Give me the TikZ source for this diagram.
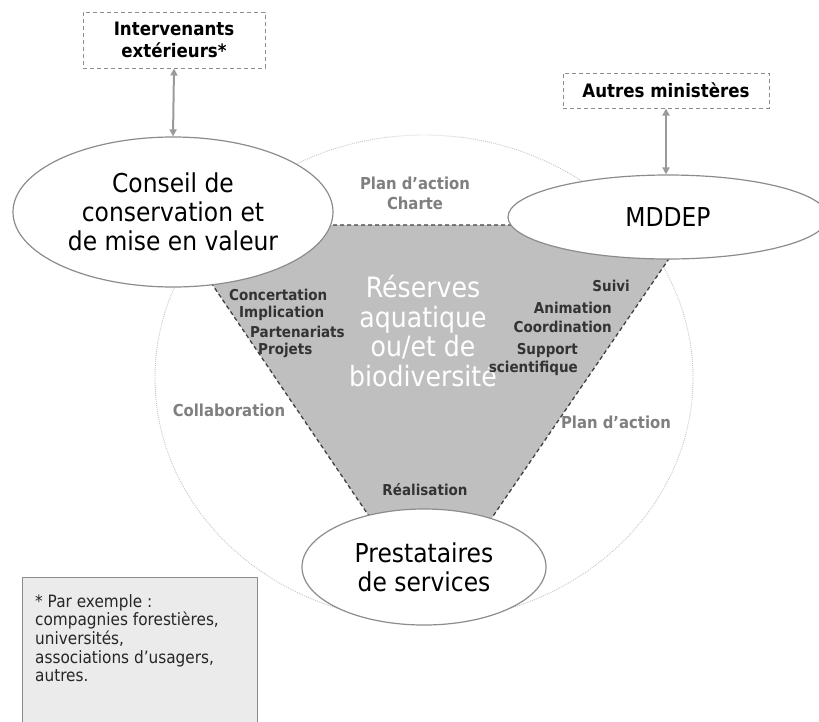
\documentclass[tikz,border=0pt]{standalone}
\usepackage{fontspec}
\setmainfont{DejaVu Sans}[FakeStretch=0.9]
\usetikzlibrary{shapes.geometric,arrows.meta}
\definecolor{trait}{HTML}{8C8C8C}
\definecolor{fleche}{HTML}{9A9A9A}
\definecolor{fond}{HTML}{BFBFBF}
\definecolor{pointille}{HTML}{404040}
\definecolor{cercle}{HTML}{C4C4C4}
\definecolor{fonce}{HTML}{333333}
\definecolor{grislab}{HTML}{7F7F7F}
\definecolor{note}{HTML}{EBEBEB}
\begin{document}
\begin{tikzpicture}[
            x=1pt, y=-1pt,
            bulle/.style={ellipse, draw=trait, line width=1.2pt, fill=white, inner sep=0pt, align=center, font=\fontsize{26}{29}\selectfont},
            exterieur/.style={draw=trait, dash pattern=on 4pt off 3pt, line width=1pt, fill=white, align=center, inner sep=0pt, font=\bfseries\fontsize{18.5}{22}\selectfont},
            liste/.style={text=fonce, inner sep=0pt, font=\bfseries\fontsize{15}{18.5}\selectfont},
            gris/.style={text=grislab, inner sep=0pt, align=center, font=\bfseries\fontsize{16.5}{20}\selectfont},
            lien/.style={draw=fleche, line width=2pt, {Triangle[length=7pt,width=7pt]}-{Triangle[length=7pt,width=7pt]}}
            ]
            \useasboundingbox (0,0) rectangle (819,721);
            % cercle de fond
            \draw[cercle, line width=0.9pt, dash pattern=on 0.9pt off 1.1pt] (424,378) ellipse [x radius=269pt, y radius=243pt];
            % zone grise
            \path[fill=fond, draw=pointille, line width=1.3pt, dash pattern=on 4pt off 3pt]
              (172,225) -- (692,225) -- (489,522) -- (373,522) -- cycle;
            % acteurs
            \node[bulle, minimum width=320pt, minimum height=150pt] (conseil) at (173,212) {Conseil de\\conservation et\\de mise en valeur};
            \node[bulle, minimum width=320pt, minimum height=84pt] (mddep) at (668,217) {MDDEP};
            \node[bulle, minimum width=244pt, minimum height=116pt] (prestataires) at (424,567) {Prestataires\\de services};
            \node[exterieur, minimum width=182pt, minimum height=56pt] (intervenants) at (174,40) {Intervenants\\extérieurs*};
            \node[exterieur, minimum width=206pt, minimum height=35pt] (autres) at (666,90.5) {Autres ministères};
            \draw[lien] (intervenants.south) -- (conseil.north);
            \draw[lien] (autres.south) -- (autres.south |- mddep.north);
            % textes
            \node[text=white, inner sep=0pt, align=center, font=\fontsize{28}{29.5}\selectfont] (reserves) at (423,331) {Réserves\\aquatique\\ou/et de\\biodiversité};
            \node[gris] (charte) at (415,193) {Plan d’action\\Charte};
            \node[gris] (collaboration) at (229,410) {Collaboration};
            \node[gris] (plan) at (616,422) {Plan d’action};
            \foreach \mot/\x/\y [count=\i] in {Concertation/229/295, Implication/239/313, Partenariats/250/332, Projets/258/350}
              \node[liste, anchor=west] (gauche\i) at (\x,\y) {\mot};
            \node[liste, anchor=east] (suivi) at (630,286) {Suivi};
            \node[liste, anchor=east, align=right] (animation) at (612,317.5) {Animation\\Coordination};
            \node[liste, anchor=east, align=right] (support) at (578,359.5) {Support\\scientifique};
            \node[liste] (realisation) at (425,490) {Réalisation};
            % note
            \draw[draw=trait, line width=1pt, fill=note] (22,577) rectangle (257,735);
            \node[anchor=north west, align=left, inner sep=0pt, text=black!85, font=\fontsize{17}{18.7}\selectfont] (exemple) at (35,594) {* Par exemple :\\compagnies forestières,\\universités,\\associations d’usagers,\\autres.};
        \end{tikzpicture}
\end{document}
